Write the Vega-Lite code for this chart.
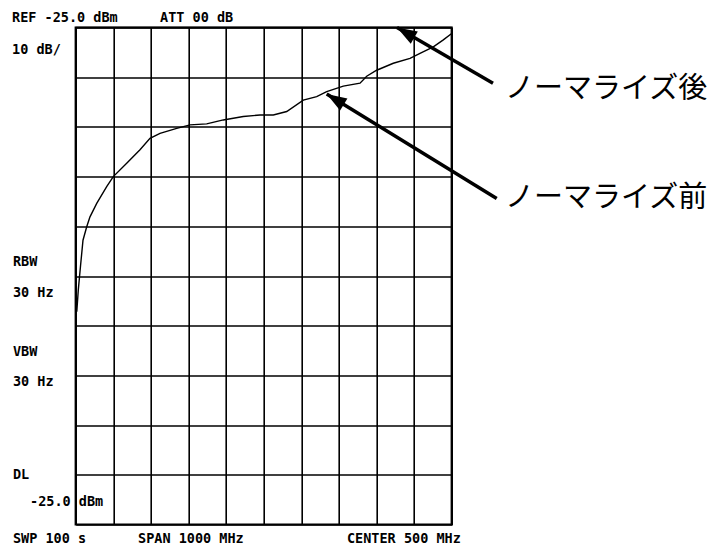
{
  "$schema": "https://vega.github.io/schema/vega-lite/v6.json",
  "width": 376,
  "height": 497,
  "autosize": {"type": "none"},
  "padding": {"left": 75.7, "top": 27.5, "right": 269.3, "bottom": 21.5},
  "background": "white",
  "config": {"view": {"stroke": "black", "strokeWidth": 2.2}},
  "datasets": {
    "trace": [
      {"f": 2.9, "dbm": -82.2}, {"f": 6.9, "dbm": -77.8}, {"f": 12.8, "dbm": -73.0}, {"f": 19.4, "dbm": -67.8},
      {"f": 29.3, "dbm": -65.1}, {"f": 38.0, "dbm": -63.1}, {"f": 55.9, "dbm": -60.4}, {"f": 82.4, "dbm": -57.0},
      {"f": 100.0, "dbm": -55.0}, {"f": 135.6, "dbm": -52.3}, {"f": 171.0, "dbm": -49.6}, {"f": 197.6, "dbm": -47.3},
      {"f": 224.2, "dbm": -46.3}, {"f": 268.6, "dbm": -45.3}, {"f": 304.0, "dbm": -44.6}, {"f": 348.4, "dbm": -44.4},
      {"f": 392.6, "dbm": -43.6}, {"f": 445.7, "dbm": -42.9}, {"f": 490.2, "dbm": -42.6}, {"f": 525.5, "dbm": -42.6},
      {"f": 561.2, "dbm": -41.9}, {"f": 605.3, "dbm": -39.6}, {"f": 640.9, "dbm": -38.9}, {"f": 667.5, "dbm": -37.9},
      {"f": 711.7, "dbm": -36.8}, {"f": 756.2, "dbm": -36.2}, {"f": 773.9, "dbm": -34.8}, {"f": 800.5, "dbm": -33.6},
      {"f": 844.7, "dbm": -32.2}, {"f": 889.1, "dbm": -31.2}, {"f": 915.7, "dbm": -30.2}, {"f": 951.1, "dbm": -28.9},
      {"f": 977.7, "dbm": -27.5}, {"f": 1000, "dbm": -26.2}
    ],
    "normalized": [{"f": 0, "dbm": -25}, {"f": 1000, "dbm": -25}],
    "screen": [
      {"text": "REF -25.0 dBm", "f": -169.4, "dbm": -23.1},
      {"text": "ATT 00 dB", "f": 224.2, "dbm": -23.1},
      {"text": "10 dB/", "f": -169.4, "dbm": -29.5},
      {"text": "RBW", "f": -166.8, "dbm": -72.2},
      {"text": "30 Hz", "f": -166.8, "dbm": -78.4},
      {"text": "VBW", "f": -166.8, "dbm": -90.3},
      {"text": "30 Hz", "f": -166.8, "dbm": -96.3},
      {"text": "DL", "f": -166.8, "dbm": -115.0},
      {"text": "-25.0 dBm", "f": -121.5, "dbm": -120.5},
      {"text": "SWP 100 s", "f": -166.8, "dbm": -127.9},
      {"text": "SPAN 1000 MHz", "f": 165.7, "dbm": -127.9},
      {"text": "CENTER 500 MHz", "f": 721.5, "dbm": -127.9}
    ],
    "notes": [
      {"label": "ノーマライズ後", "tf": 1109.8, "td": -36.2, "hf": 854.5, "hd": -25.0, "lf": 1141.8, "ld": -37.4},
      {"label": "ノーマライズ前", "tf": 1119.7, "td": -59.4, "hf": 667.6, "hd": -38.4, "lf": 1141.8, "ld": -59.3}
    ]
  },
  "layer": [
    {
      "data": {"name": "trace"},
      "mark": {"type": "line", "color": "black", "strokeWidth": 1.4},
      "encoding": {
        "x": {
          "field": "f", "type": "quantitative",
          "scale": {"domain": [0, 1000], "nice": false, "zero": false},
          "axis": {"values": [0, 100, 200, 300, 400, 500, 600, 700, 800, 900, 1000], "tickCount": 30, "labels": false, "ticks": false, "domain": false, "title": null, "grid": true, "gridColor": "black", "gridWidth": 1.6, "gridOpacity": 1}
        },
        "y": {
          "field": "dbm", "type": "quantitative",
          "scale": {"domain": [-125, -25], "nice": false, "zero": false},
          "axis": {"values": [-125, -115, -105, -95, -85, -75, -65, -55, -45, -35, -25], "tickCount": 30, "labels": false, "ticks": false, "domain": false, "title": null, "grid": true, "gridColor": "black", "gridWidth": 1.6, "gridOpacity": 1}
        }
      }
    },
    {
      "data": {"name": "normalized"},
      "mark": {"type": "line", "color": "black", "strokeWidth": 1.4},
      "encoding": {
        "x": {"field": "f", "type": "quantitative"},
        "y": {"field": "dbm", "type": "quantitative"}
      }
    },
    {
      "data": {"name": "screen"},
      "mark": {"type": "text", "align": "left", "baseline": "middle", "font": "DejaVu Sans Mono", "fontWeight": "bold", "fontSize": 13.5, "color": "black"},
      "encoding": {
        "x": {"field": "f", "type": "quantitative"},
        "y": {"field": "dbm", "type": "quantitative"},
        "text": {"field": "text", "type": "nominal"}
      }
    },
    {
      "data": {"name": "notes"},
      "mark": {"type": "rule", "color": "black", "strokeWidth": 3.5},
      "encoding": {
        "x": {"field": "tf", "type": "quantitative"},
        "y": {"field": "td", "type": "quantitative"},
        "x2": {"field": "hf"},
        "y2": {"field": "hd"}
      }
    },
    {
      "data": {"name": "notes"},
      "transform": [{"filter": "datum.tf < 1115"}],
      "mark": {"type": "point", "shape": "M0,0L2,-0.7L2,0.7Z", "size": 400, "filled": true, "color": "black", "opacity": 1, "strokeWidth": 0, "angle": 30.3},
      "encoding": {
        "x": {"field": "hf", "type": "quantitative"},
        "y": {"field": "hd", "type": "quantitative"}
      }
    },
    {
      "data": {"name": "notes"},
      "transform": [{"filter": "datum.tf > 1115"}],
      "mark": {"type": "point", "shape": "M0,0L2,-0.7L2,0.7Z", "size": 400, "filled": true, "color": "black", "opacity": 1, "strokeWidth": 0, "angle": 31.5},
      "encoding": {
        "x": {"field": "hf", "type": "quantitative"},
        "y": {"field": "hd", "type": "quantitative"}
      }
    },
    {
      "data": {"name": "notes"},
      "mark": {"type": "text", "align": "left", "baseline": "middle", "font": "Noto Sans CJK JP", "fontSize": 29, "color": "black"},
      "encoding": {
        "x": {"field": "lf", "type": "quantitative"},
        "y": {"field": "ld", "type": "quantitative"},
        "text": {"field": "label", "type": "nominal"}
      }
    }
  ]
}
